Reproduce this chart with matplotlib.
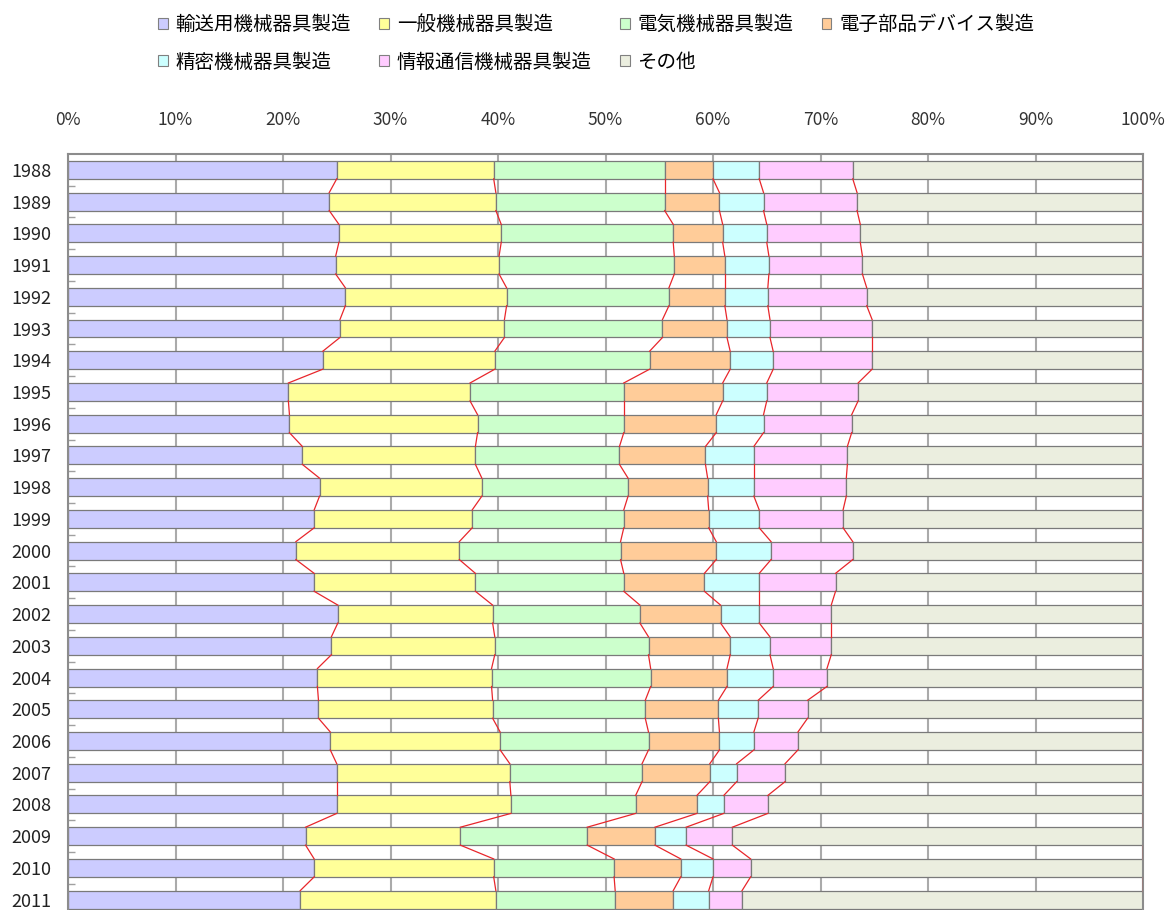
import numpy as np
import matplotlib
matplotlib.use("Agg")
import matplotlib.pyplot as plt
from matplotlib.patches import Patch

plt.rcParams['font.family'] = ['Noto Sans CJK JP', 'DejaVu Sans']

years = [str(y) for y in range(1988, 2012)]
categories = ['輸送用機械器具製造', '一般機械器具製造', '電気機械器具製造', '電子部品デバイス製造',
              '精密機械器具製造', '情報通信機械器具製造', 'その他']
colors = ['#CCCCFF', '#FFFF99', '#CCFFCC', '#FFCC99', '#CCFFFF', '#FFCCFF', '#EBEEDF']

# shares (%) per year
transport = [25.0, 24.3, 25.2, 24.9, 25.8, 25.3, 23.7, 20.5, 20.6, 21.8, 23.4, 22.9,
             21.2, 22.9, 25.1, 24.5, 23.2, 23.3, 24.4, 25.0, 25.0, 22.1, 22.9, 21.6]
general = [14.6, 15.5, 15.1, 15.2, 15.0, 15.3, 16.0, 16.9, 17.5, 16.1, 15.1, 14.7,
           15.2, 15.0, 14.4, 15.2, 16.2, 16.2, 15.8, 16.1, 16.2, 14.4, 16.7, 18.2]
electric = [15.9, 15.7, 16.0, 16.3, 15.1, 14.7, 14.4, 14.3, 13.6, 13.4, 13.6, 14.1,
            15.0, 13.8, 13.7, 14.3, 14.8, 14.2, 13.8, 12.3, 11.6, 11.8, 11.2, 11.1]
devices = [4.5, 5.1, 4.6, 4.7, 5.2, 6.0, 7.5, 9.2, 8.6, 8.0, 7.4, 7.9,
           8.9, 7.5, 7.5, 7.6, 7.1, 6.8, 6.6, 6.3, 5.7, 6.3, 6.2, 5.4]
precision = [4.3, 4.1, 4.1, 4.1, 4.0, 4.0, 4.0, 4.1, 4.4, 4.5, 4.3, 4.7,
             5.1, 5.1, 3.6, 3.7, 4.3, 3.7, 3.2, 2.5, 2.5, 2.9, 3.0, 3.3]
infocomm = [8.7, 8.7, 8.7, 8.7, 9.2, 9.5, 9.2, 8.5, 8.2, 8.7, 8.6, 7.8,
            7.6, 7.1, 6.7, 5.7, 5.0, 4.6, 4.1, 4.5, 4.1, 4.3, 3.5, 3.1]
other = [27.0, 26.6, 26.3, 26.1, 25.7, 25.2, 25.2, 26.5, 27.1, 27.5, 27.6, 27.9,
         27.0, 28.6, 29.0, 29.0, 29.4, 31.2, 32.1, 33.3, 34.9, 38.2, 36.5, 37.3]

data = np.array([transport, general, electric, devices, precision, infocomm, other])
data = data / data.sum(axis=0) * 100
cum = np.cumsum(data, axis=0)

fig = plt.figure(figsize=(11.67, 9.10), dpi=100)
ax = fig.add_axes([68/1167, 1 - 915.5/910, 1075/1167, 761.5/910])

y = np.arange(len(years))
h = 0.566
left = np.zeros(len(years))
for k in range(len(categories)):
    ax.barh(y, data[k], left=left, height=h, color=colors[k],
            edgecolor='#7A7A7A', linewidth=0.9, zorder=2, label=categories[k])
    left = left + data[k]

# series lines between bars
for k in range(len(categories)):
    for i in range(len(years) - 1):
        ax.plot([cum[k, i], cum[k, i + 1]], [i + h/2, i + 1 - h/2],
                color='#E8262B', lw=0.9, zorder=3)

ax.set_xlim(0, 100)
ax.set_ylim(len(years) - 0.5, -0.5)
ax.set_xticks(np.arange(0, 101, 10))
ax.set_xticklabels([f'{v}%' for v in range(0, 101, 10)])
ax.xaxis.tick_top()
ax.tick_params(axis='x', length=0, pad=18, labelsize=12.5, colors='#333333')
ax.set_yticks(y)
ax.set_yticklabels(years)
ax.set_yticks(np.arange(0.5, len(years) - 1, 1), minor=True)
ax.tick_params(axis='y', which='major', length=0, pad=12, labelsize=13, colors='#222222')
ax.tick_params(axis='y', which='minor', length=5, width=1, direction='in', color='#A0A0A0')
ax.grid(axis='x', color='#AAAAAA', lw=1.5, zorder=0)
ax.set_axisbelow(True)
for s in ax.spines.values():
    s.set_color('#8C8C8C')
    s.set_linewidth(1.5)

handles = [Patch(facecolor=c, edgecolor='#808080', lw=0.8) for c in colors]
order = [0, 4, 1, 5, 2, 6, 3]
fig.legend([handles[i] for i in order], [categories[i] for i in order],
           loc='upper left', bbox_to_anchor=(158/1167, 1 - 14/910), ncol=4,
           frameon=False, fontsize=14, handlelength=0.5, handleheight=0.5,
           handletextpad=0.4, columnspacing=1.45, labelspacing=0.86,
           borderpad=0, borderaxespad=0)

fig.savefig('out.png', dpi=100)
